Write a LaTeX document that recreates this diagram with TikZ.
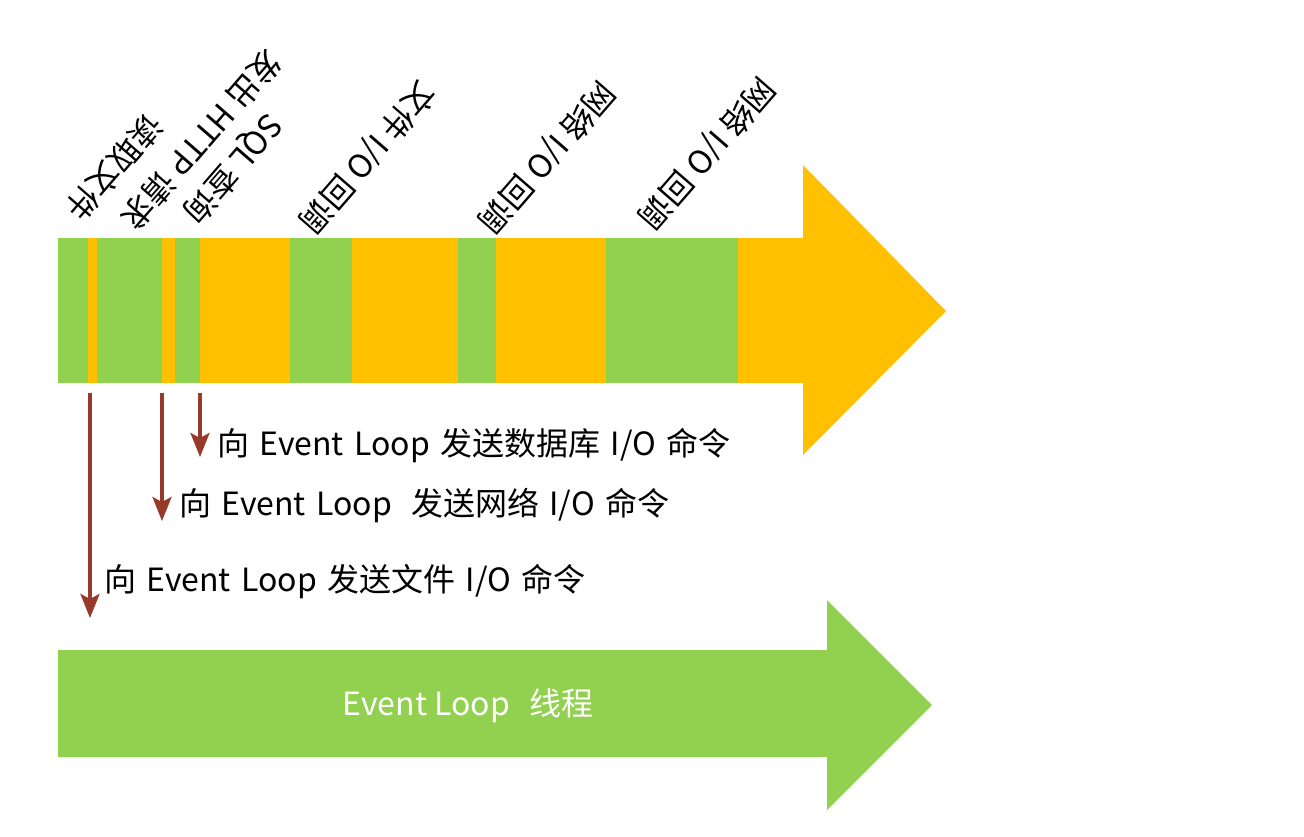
\documentclass[tikz,border=0pt]{standalone}
\usepackage{fontspec}
\setmainfont{Noto Sans CJK SC}
\newfontfamily\cmdfont{Noto Sans CJK SC}[WordSpace=1.45]
\usetikzlibrary{arrows.meta}
\definecolor{barorange}{RGB}{255,192,0}
\definecolor{bargreen}{RGB}{146,208,80}
\definecolor{brownarrow}{RGB}{150,58,42}
\begin{document}
\begin{tikzpicture}[x=1pt,y=-1pt,
  toplbl/.style={inner sep=0pt, rotate=229, anchor=east, font=\fontsize{32}{34}\selectfont, text=black},
  cmdlbl/.style={inner sep=0pt, anchor=west, font=\cmdfont\fontsize{32}{34}\selectfont, text=black},
  sendarrow/.style={draw=brownarrow, line width=3.5pt, -{Stealth[length=24pt,width=19pt,inset=5pt]}},
  greenseg/.style={fill=bargreen, draw=none},
]
\useasboundingbox[fill=white] (0,0) rectangle (1304,836);

% top (orange) arrow: main thread timeline
\fill[barorange] (58,238) -- (803,238) -- (803,165) -- (946,311) -- (803,455) -- (803,383) -- (58,383) -- cycle;
\foreach \a/\b in {58/88, 97/162, 175/200, 290/352, 458/496, 606/738}
  \fill[greenseg] (\a,238) rectangle (\b,383);

% rotated labels above the timeline
\node[toplbl] (t1) at (73,216)  {读取文件};
\node[toplbl] (t2) at (128,225) {发出 HTTP 请求};
\node[toplbl] (t3) at (189,218) {SQL 查询};
\node[toplbl] (t4) at (305,228) {文件 I/O 回调};
\node[toplbl] (t5) at (485,228) {网络 I/O 回调};
\node[toplbl] (t6) at (645,224) {网络 I/O 回调};

% bottom (green) arrow: event loop thread
\fill[bargreen] (58,650) -- (827,650) -- (827,600) -- (932,705) -- (827,810) -- (827,757) -- (58,757) -- cycle;
\node[inner sep=0pt, text=white, font=\fontsize{32}{34}\selectfont] (el) at (468,706) {Event Loop\hspace{0.6em}线程};

% command labels
\node[cmdlbl] (c3) at (217,446) {向 Event Loop 发送数据库 I/O 命令};
\node[cmdlbl] (c2) at (179,506) {向 Event Loop\hspace{0.6em}发送网络 I/O 命令};
\node[cmdlbl] (c1) at (104,582) {向 Event Loop 发送文件 I/O 命令};

% arrows from the timeline
\coordinate (s1) at (90,393);  \coordinate (e1) at (90,618);
\coordinate (s2) at (162,393); \coordinate (e2) at (162,521);
\coordinate (s3) at (200,393); \coordinate (e3) at (200,457);
\draw[sendarrow] (s1) -- (e1);
\draw[sendarrow] (s2) -- (e2);
\draw[sendarrow] (s3) -- (e3);
\end{tikzpicture}
\end{document}
